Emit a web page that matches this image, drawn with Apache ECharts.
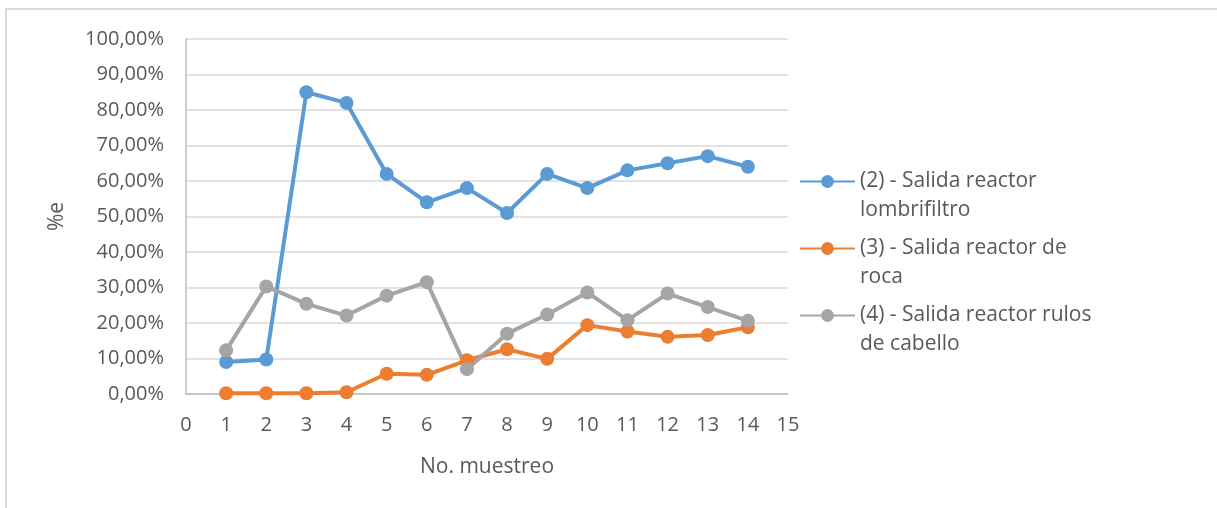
<!DOCTYPE html>
<html>
<head>
<meta charset="utf-8">
<script src="https://cdn.jsdelivr.net/npm/echarts@6/dist/echarts.min.js"></script>
<style>
  html, body { margin: 0; padding: 0; background: #fff; }
  #main { width: 1217px; height: 508px; }
</style>
</head>
<body>
<div id="main"></div>
<script>
const chart = echarts.init(document.querySelector('#main'));

// No. muestreo
const muestreos = [1, 2, 3, 4, 5, 6, 7, 8, 9, 10, 11, 12, 13, 14];

// valores (fraccion, 0.5 = 50%)
const lombrifiltro = [0.09, 0.097, 0.85, 0.82, 0.62, 0.54, 0.58, 0.51, 0.62, 0.58, 0.63, 0.65, 0.67, 0.64];
const roca = [0.002, 0.002, 0.002, 0.005, 0.057, 0.054, 0.095, 0.126, 0.099, 0.194, 0.176, 0.161, 0.166, 0.188];
const rulos = [0.123, 0.303, 0.254, 0.221, 0.277, 0.315, 0.07, 0.17, 0.224, 0.286, 0.208, 0.283, 0.245, 0.206];

const nombres = [
    '(2) - Salida reactor lombrifiltro',
    '(3) - Salida reactor de roca',
    '(4) - Salida reactor rulos de cabello'
];
// texto de la leyenda en dos lineas (la linea vacia de arriba alinea el icono con la primera)
const nombresLegenda = {
    '(2) - Salida reactor lombrifiltro': '\n(2) - Salida reactor\nlombrifiltro',
    '(3) - Salida reactor de roca': '\n(3) - Salida reactor de\nroca',
    '(4) - Salida reactor rulos de cabello': '\n(4) - Salida reactor rulos\nde cabello'
};
const colores = ['#5B9BD5', '#ED7D31', '#A5A5A5'];

const fuente = '"Open Sans", "Noto Sans", sans-serif';
const gris = '#595959';

const pares = (vals) => vals.map((v, i) => [muestreos[i], v]);

function serie(nombre, vals, color) {
    return {
        name: nombre,
        type: 'line',
        data: pares(vals),
        symbol: 'circle',
        symbolSize: 14,
        lineStyle: { color: color, width: 4 },
        itemStyle: { color: color },
        emphasis: { disabled: true }
    };
}

let option = {
    animation: false,
    backgroundColor: '#fff',
    textStyle: { fontFamily: fuente },
    graphic: [
        {
            type: 'rect',
            shape: { x: 6, y: 9, width: 1300, height: 600 },
            style: { fill: 'none', stroke: '#d9d9d9', lineWidth: 2 },
            silent: true
        }
    ],
    grid: {
        left: 186,
        right: 429,
        top: 39,
        bottom: 114
    },
    legend: {
        orient: 'vertical',
        left: 799,
        top: 138,
        padding: 0,
        itemGap: -20,
        itemWidth: 55,
        itemHeight: 16,
        data: nombres,
        formatter: (n) => nombresLegenda[n],
        textStyle: {
            color: gris,
            fontSize: 21,
            fontFamily: fuente,
            lineHeight: 29
        }
    },
    xAxis: {
        type: 'value',
        min: 0,
        max: 15,
        interval: 1,
        name: 'No. muestreo',
        nameLocation: 'middle',
        nameGap: 63,
        nameTextStyle: { color: gris, fontSize: 21, fontFamily: fuente },
        axisLine: { show: true, lineStyle: { color: '#bfbfbf', width: 1.5 } },
        axisTick: { show: false },
        splitLine: { show: false },
        axisLabel: { color: gris, fontSize: 20, fontFamily: fuente, margin: 21 }
    },
    yAxis: {
        type: 'value',
        min: 0,
        max: 1,
        interval: 0.1,
        name: '%e',
        nameLocation: 'middle',
        nameGap: 118,
        nameRotate: 90,
        nameTextStyle: { color: gris, fontSize: 21, fontFamily: fuente },
        axisLine: { show: true, lineStyle: { color: '#bfbfbf', width: 1.5 } },
        axisTick: { show: false },
        splitLine: { show: true, lineStyle: { color: '#d9d9d9', width: 1.5 } },
        axisLabel: {
            color: gris,
            fontSize: 20,
            fontFamily: fuente,
            margin: 22,
            formatter: (v) => (v * 100).toFixed(2).replace('.', ',') + '%'
        }
    },
    series: [
        serie(nombres[0], lombrifiltro, colores[0]),
        serie(nombres[1], roca, colores[1]),
        serie(nombres[2], rulos, colores[2])
    ]
};

chart.setOption(option);
</script>
</body>
</html>
